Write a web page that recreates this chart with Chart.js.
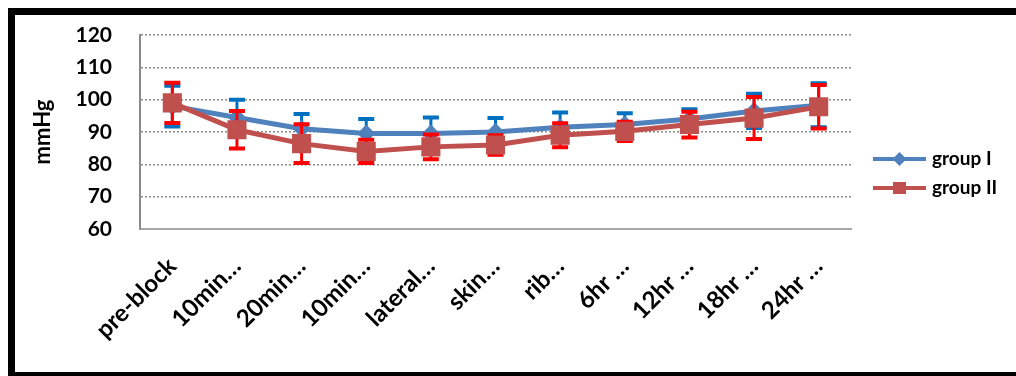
<!DOCTYPE html>
<html>
<head>
<meta charset="utf-8">
<script src="https://cdn.jsdelivr.net/npm/chart.js@4.4.1/dist/chart.umd.min.js"></script>
<style>
  html, body { margin: 0; padding: 0; background: #fff; }
  #wrap { position: relative; width: 1016px; height: 376px; }
</style>
</head>
<body>
<div id="wrap"><canvas id="chart"></canvas></div>
<script>
// Time points (labels as they appear on the axis)
const categories = ['pre-block', '10min…', '20min…', '10min…', 'lateral…', 'skin…', 'rib…', '6hr …', '12hr …', '18hr …', '24hr …'];

// Mean arterial pressure, mmHg (mean and SD per time point)
const groupI    = [98.0, 94.5, 91.0, 89.5, 89.5, 90.0, 91.5, 92.3, 94.0, 96.5, 98.3];
const groupISD  = [6.3, 5.5, 4.6, 4.5, 5.0, 4.3, 4.5, 3.5, 3.0, 5.3, 6.8];
const groupII   = [99.0, 90.7, 86.4, 84.0, 85.4, 86.0, 89.0, 90.2, 92.3, 94.3, 97.8];
const groupIISD = [6.2, 5.8, 6.0, 3.6, 3.8, 3.0, 3.7, 3.0, 4.0, 6.5, 6.7];

const yTicks = [60, 70, 80, 90, 100, 110, 120];

Chart.defaults.font.family = 'Lato, "Open Sans", sans-serif';

// Draws +/- SD whiskers with caps under each series' line and markers
const errorBars = {
  id: 'errorBars',
  beforeDatasetDraw(chart, args) {
    const ds = chart.data.datasets[args.index];
    if (!ds.errors) return;
    const y = chart.scales.y;
    const ctx = chart.ctx;
    ctx.save();
    ctx.strokeStyle = ds.errorColor;
    args.meta.data.forEach((pt, i) => {
      const v = ds.data[i], e = ds.errors[i];
      const yHi = y.getPixelForValue(v + e);
      const yLo = y.getPixelForValue(v - e);
      const x = pt.x;
      ctx.lineWidth = 3;
      ctx.beginPath();
      ctx.moveTo(x, yHi); ctx.lineTo(x, yLo);
      ctx.stroke();
      ctx.lineWidth = 4;
      ctx.beginPath();
      ctx.moveTo(x - 8, yHi); ctx.lineTo(x + 8, yHi);
      ctx.moveTo(x - 8, yLo); ctx.lineTo(x + 8, yLo);
      ctx.stroke();
    });
    ctx.restore();
  }
};

// Line-and-marker legend at the right of the plot
const sideLegend = {
  id: 'sideLegend',
  afterDraw(chart, args, opts) {
    const ctx = chart.ctx;
    const x0 = chart.chartArea.right + opts.offsetX;
    chart.data.datasets.forEach((ds, i) => {
      const yy = opts.top + i * opts.gap;
      const mx = x0 + opts.lineLength / 2;
      ctx.save();
      ctx.strokeStyle = ds.borderColor;
      ctx.lineWidth = 4;
      ctx.beginPath();
      ctx.moveTo(x0, yy); ctx.lineTo(x0 + opts.lineLength, yy);
      ctx.stroke();
      ctx.fillStyle = ds.backgroundColor;
      ctx.beginPath();
      if (ds.pointStyle === 'rectRot') {
        const r = 7;
        ctx.moveTo(mx, yy - r); ctx.lineTo(mx + r, yy); ctx.lineTo(mx, yy + r); ctx.lineTo(mx - r, yy);
        ctx.closePath();
      } else {
        ctx.rect(mx - 6.5, yy - 6, 13, 12);
      }
      ctx.fill();
      ctx.fillStyle = '#000';
      ctx.font = 'bold 19px Lato, "Open Sans", sans-serif';
      ctx.textBaseline = 'middle';
      ctx.textAlign = 'left';
      ctx.fillText(ds.label, x0 + opts.lineLength + 6, yy);
      ctx.restore();
    });
  }
};

// White page with a heavy black frame
const frame = {
  id: 'frame',
  beforeDraw(chart) {
    const ctx = chart.ctx;
    ctx.save();
    ctx.fillStyle = '#fff';
    ctx.fillRect(0, 0, chart.width, chart.height);
    ctx.restore();
  },
  afterDraw(chart) {
    const ctx = chart.ctx;
    ctx.save();
    ctx.fillStyle = '#000';
    ctx.fillRect(8, 8, chart.width, 7);
    ctx.fillRect(8, 8, 7, chart.height);
    ctx.fillRect(8, 372, chart.width, 8);
    ctx.restore();
  }
};

new Chart(document.getElementById('chart'), {
  type: 'line',
  data: {
    labels: categories,
    datasets: [
      {
        label: 'group I',
        data: groupI,
        errors: groupISD,
        errorColor: '#0070C0',
        borderColor: '#4F81BD',
        backgroundColor: '#4F81BD',
        borderWidth: 5,
        pointStyle: 'rectRot',
        pointRadius: 9,
        pointBorderWidth: 0,
        tension: 0,
        order: 2
      },
      {
        label: 'group II',
        data: groupII,
        errors: groupIISD,
        errorColor: '#FF0000',
        borderColor: '#C0504D',
        backgroundColor: '#C0504D',
        borderWidth: 5,
        pointStyle: 'rect',
        pointRadius: 13.5,
        pointBorderWidth: 0,
        tension: 0,
        order: 1
      }
    ]
  },
  options: {
    responsive: true,
    maintainAspectRatio: false,
    animation: false,
    layout: { padding: { top: 35, right: 165, bottom: 0, left: 0 } },
    plugins: {
      legend: { display: false },
      tooltip: { enabled: false },
      sideLegend: { offsetX: 22, top: 159, gap: 29, lineLength: 53 }
    },
    scales: {
      x: {
        type: 'category',
        offset: true,
        grid: { display: false, drawTicks: false },
        border: { display: true, color: '#a6a6a6', width: 2 },
        ticks: {
          autoSkip: false,
          minRotation: 45,
          maxRotation: 45,
          padding: 23,
          color: '#000',
          font: { size: 24, weight: 'bold' }
        },
        afterFit(s) { s.height = 147; }
      },
      y: {
        min: 60,
        max: 120,
        afterBuildTicks(s) { s.ticks = yTicks.map(v => ({ value: v })); },
        ticks: { padding: 4, color: '#000', font: { size: 21, weight: 'bold' } },
        grid: { color: '#8a8a8a', lineWidth: 1.5, drawTicks: true, tickLength: 24, tickColor: 'rgba(0,0,0,0)' },
        border: { display: true, color: '#8a8a8a', width: 2, dash: [2, 2] },
        title: {
          display: true,
          text: 'mmHg',
          color: '#000',
          font: { size: 22, weight: 'bold' },
          padding: { top: 30, bottom: 0 }
        },
        afterFit(s) { s.width = 140; }
      }
    }
  },
  plugins: [frame, errorBars, sideLegend]
});
</script>
</body>
</html>
